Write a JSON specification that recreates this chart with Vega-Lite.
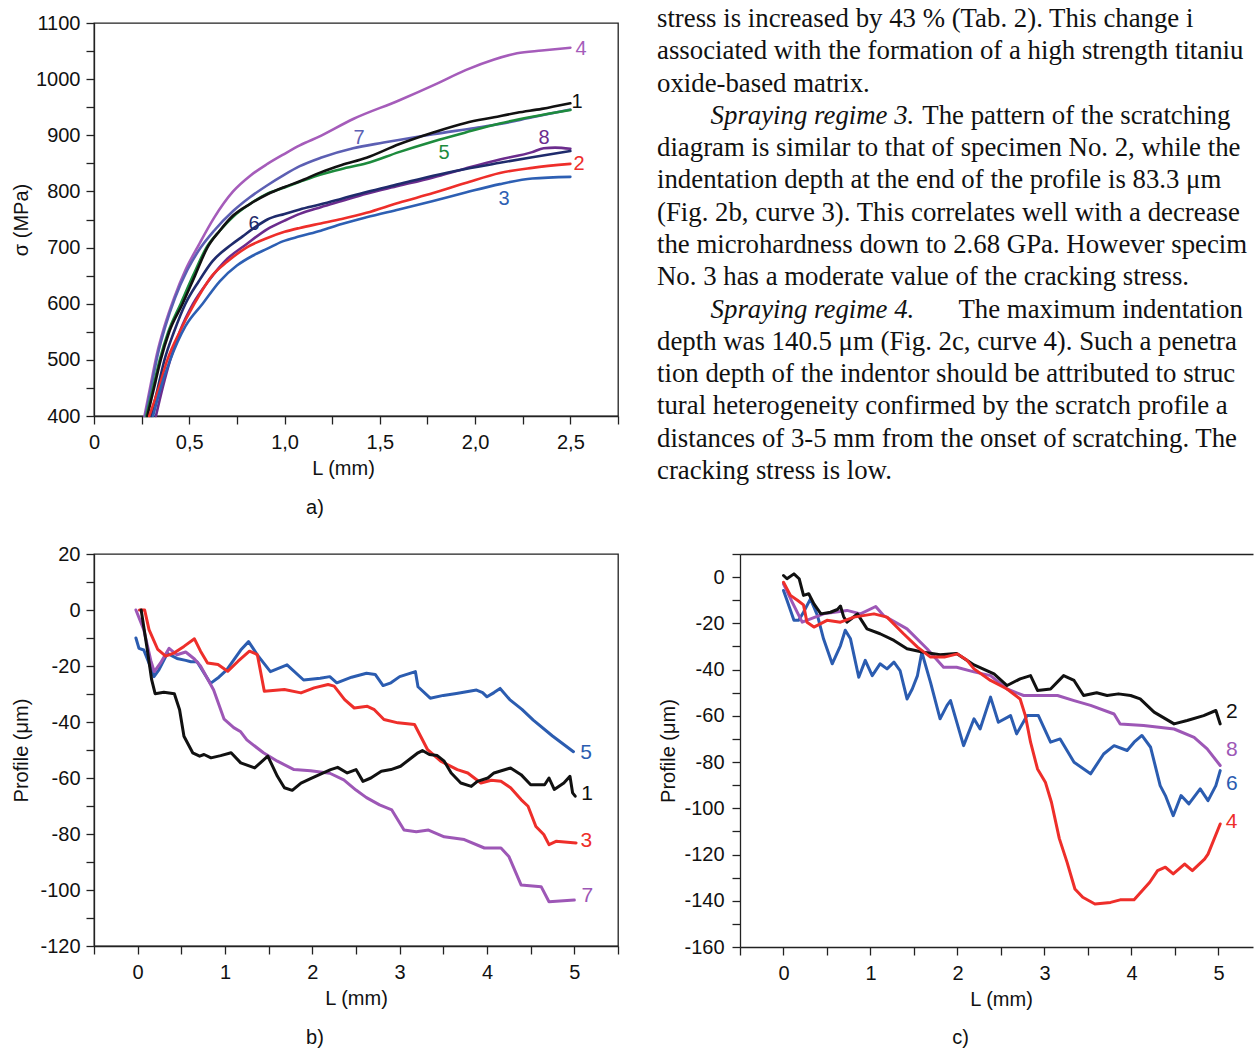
{
"$schema": "https://vega.github.io/schema/vega-lite/v6.json",
"background": "white",
"padding": {"left": 10, "top": 5, "right": 0, "bottom": 0},
"config": {
  "font": "Liberation Sans",
  "view": {"stroke": "#222222", "strokeWidth": 1.3},
  "axis": {"grid": false, "domainColor": "#222222", "domainWidth": 1.3, "tickColor": "#222222", "tickWidth": 1.3, "tickSize": 8, "labelFont": "Liberation Sans", "labelFontSize": 20, "labelColor": "#111111", "titleFont": "Liberation Sans", "titleFontSize": 20, "titleFontWeight": "normal", "titleColor": "#111111", "labelOverlap": false, "labelFlush": false, "labelBound": false},
  "axisX": {"labelPadding": 8.5, "titleY": 42.5, "titleBaseline": "top"},
  "axisY": {"labelPadding": 6, "titleX": -73, "titleBaseline": "middle"},
  "title": {"font": "Liberation Sans", "fontSize": 20, "fontWeight": "normal", "color": "#111111", "orient": "bottom", "anchor": "middle", "frame": "group", "baseline": "alphabetic", "offset": 19},
  "line": {"strokeCap": "round", "strokeJoin": "round"}
},
"datasets": {
  "a": [
    {"c":"a4","L":0.265,"s":400},{"c":"a4","L":0.30,"s":460},{"c":"a4","L":0.33,"s":510},{"c":"a4","L":0.37,"s":560},{"c":"a4","L":0.42,"s":610},{"c":"a4","L":0.48,"s":660},{"c":"a4","L":0.55,"s":705},{"c":"a4","L":0.63,"s":753},{"c":"a4","L":0.73,"s":800},{"c":"a4","L":0.82,"s":828},{"c":"a4","L":0.91,"s":849},{"c":"a4","L":1.0,"s":867},{"c":"a4","L":1.08,"s":882},{"c":"a4","L":1.19,"s":899},{"c":"a4","L":1.36,"s":929},{"c":"a4","L":1.6,"s":962},{"c":"a4","L":1.8,"s":992},{"c":"a4","L":1.95,"s":1016},{"c":"a4","L":2.1,"s":1035},{"c":"a4","L":2.22,"s":1046},{"c":"a4","L":2.35,"s":1051},{"c":"a4","L":2.5,"s":1056},
    {"c":"a7","L":0.27,"s":400},{"c":"a7","L":0.305,"s":460},{"c":"a7","L":0.335,"s":510},{"c":"a7","L":0.375,"s":560},{"c":"a7","L":0.425,"s":610},{"c":"a7","L":0.49,"s":660},{"c":"a7","L":0.56,"s":700},{"c":"a7","L":0.63,"s":730},{"c":"a7","L":0.73,"s":765},{"c":"a7","L":0.82,"s":790},{"c":"a7","L":0.91,"s":811},{"c":"a7","L":1.0,"s":830},{"c":"a7","L":1.08,"s":845},{"c":"a7","L":1.19,"s":860},{"c":"a7","L":1.36,"s":877},{"c":"a7","L":1.52,"s":887},{"c":"a7","L":1.78,"s":902},{"c":"a7","L":2.0,"s":913},{"c":"a7","L":2.13,"s":920},{"c":"a7","L":2.3,"s":932},{"c":"a7","L":2.5,"s":946},
    {"c":"a5","L":0.275,"s":400},{"c":"a5","L":0.31,"s":450},{"c":"a5","L":0.345,"s":500},{"c":"a5","L":0.39,"s":550},{"c":"a5","L":0.455,"s":600},{"c":"a5","L":0.52,"s":650},{"c":"a5","L":0.59,"s":700},{"c":"a5","L":0.66,"s":730},{"c":"a5","L":0.73,"s":755},{"c":"a5","L":0.82,"s":778},{"c":"a5","L":0.91,"s":796},{"c":"a5","L":1.0,"s":807},{"c":"a5","L":1.08,"s":817},{"c":"a5","L":1.19,"s":830},{"c":"a5","L":1.3,"s":840},{"c":"a5","L":1.43,"s":850},{"c":"a5","L":1.6,"s":870},{"c":"a5","L":1.78,"s":889},{"c":"a5","L":1.95,"s":905},{"c":"a5","L":2.13,"s":921},{"c":"a5","L":2.3,"s":933},{"c":"a5","L":2.5,"s":945},
    {"c":"a1","L":0.28,"s":400},{"c":"a1","L":0.315,"s":450},{"c":"a1","L":0.35,"s":500},{"c":"a1","L":0.395,"s":550},{"c":"a1","L":0.465,"s":600},{"c":"a1","L":0.53,"s":650},{"c":"a1","L":0.595,"s":700},{"c":"a1","L":0.66,"s":730},{"c":"a1","L":0.73,"s":757},{"c":"a1","L":0.82,"s":778},{"c":"a1","L":0.91,"s":795},{"c":"a1","L":1.0,"s":808},{"c":"a1","L":1.08,"s":818},{"c":"a1","L":1.19,"s":834},{"c":"a1","L":1.3,"s":847},{"c":"a1","L":1.43,"s":860},{"c":"a1","L":1.6,"s":884},{"c":"a1","L":1.78,"s":905},{"c":"a1","L":1.95,"s":922},{"c":"a1","L":2.1,"s":932},{"c":"a1","L":2.22,"s":940},{"c":"a1","L":2.35,"s":947},{"c":"a1","L":2.5,"s":957},
    {"c":"a8","L":0.325,"s":400},{"c":"a8","L":0.36,"s":450},{"c":"a8","L":0.40,"s":500},{"c":"a8","L":0.45,"s":550},{"c":"a8","L":0.52,"s":600},{"c":"a8","L":0.60,"s":640},{"c":"a8","L":0.70,"s":680},{"c":"a8","L":0.80,"s":706},{"c":"a8","L":0.91,"s":733},{"c":"a8","L":1.0,"s":748},{"c":"a8","L":1.08,"s":760},{"c":"a8","L":1.19,"s":772},{"c":"a8","L":1.3,"s":783},{"c":"a8","L":1.43,"s":796},{"c":"a8","L":1.6,"s":810},{"c":"a8","L":1.78,"s":825},{"c":"a8","L":1.95,"s":841},{"c":"a8","L":2.13,"s":857},{"c":"a8","L":2.3,"s":870},{"c":"a8","L":2.36,"s":877},{"c":"a8","L":2.42,"s":878},{"c":"a8","L":2.5,"s":876},
    {"c":"a6","L":0.30,"s":400},{"c":"a6","L":0.335,"s":450},{"c":"a6","L":0.37,"s":500},{"c":"a6","L":0.42,"s":550},{"c":"a6","L":0.48,"s":600},{"c":"a6","L":0.55,"s":640},{"c":"a6","L":0.62,"s":675},{"c":"a6","L":0.72,"s":705},{"c":"a6","L":0.78,"s":720},{"c":"a6","L":0.84,"s":735},{"c":"a6","L":0.91,"s":750},{"c":"a6","L":1.0,"s":760},{"c":"a6","L":1.08,"s":768},{"c":"a6","L":1.19,"s":777},{"c":"a6","L":1.3,"s":787},{"c":"a6","L":1.43,"s":799},{"c":"a6","L":1.6,"s":813},{"c":"a6","L":1.78,"s":828},{"c":"a6","L":1.95,"s":840},{"c":"a6","L":2.13,"s":851},{"c":"a6","L":2.3,"s":861},{"c":"a6","L":2.5,"s":872},
    {"c":"a2","L":0.29,"s":400},{"c":"a2","L":0.34,"s":450},{"c":"a2","L":0.385,"s":500},{"c":"a2","L":0.45,"s":550},{"c":"a2","L":0.527,"s":600},{"c":"a2","L":0.62,"s":650},{"c":"a2","L":0.70,"s":675},{"c":"a2","L":0.80,"s":700},{"c":"a2","L":0.91,"s":717},{"c":"a2","L":1.0,"s":728},{"c":"a2","L":1.08,"s":735},{"c":"a2","L":1.19,"s":743},{"c":"a2","L":1.3,"s":751},{"c":"a2","L":1.43,"s":762},{"c":"a2","L":1.6,"s":780},{"c":"a2","L":1.78,"s":797},{"c":"a2","L":1.95,"s":815},{"c":"a2","L":2.13,"s":833},{"c":"a2","L":2.3,"s":842},{"c":"a2","L":2.5,"s":849},
    {"c":"a3","L":0.31,"s":400},{"c":"a3","L":0.35,"s":450},{"c":"a3","L":0.40,"s":500},{"c":"a3","L":0.48,"s":560},{"c":"a3","L":0.57,"s":600},{"c":"a3","L":0.66,"s":640},{"c":"a3","L":0.75,"s":668},{"c":"a3","L":0.83,"s":685},{"c":"a3","L":0.91,"s":698},{"c":"a3","L":0.99,"s":711},{"c":"a3","L":1.08,"s":720},{"c":"a3","L":1.19,"s":730},{"c":"a3","L":1.3,"s":742},{"c":"a3","L":1.43,"s":754},{"c":"a3","L":1.6,"s":768},{"c":"a3","L":1.78,"s":783},{"c":"a3","L":1.95,"s":798},{"c":"a3","L":2.13,"s":813},{"c":"a3","L":2.3,"s":823},{"c":"a3","L":2.5,"s":826}
  ],
  "aLab": [
    {"c":"a4","n":"4","L":2.556,"s":1054},{"c":"a1","n":"1","L":2.535,"s":959},{"c":"a8","n":"8","L":2.362,"s":895},{"c":"a2","n":"2","L":2.545,"s":849},{"c":"a3","n":"3","L":2.152,"s":787},{"c":"a7","n":"7","L":1.391,"s":895},{"c":"a5","n":"5","L":1.837,"s":868},{"c":"a6","n":"6","L":0.84,"s":742}
  ],
  "b": [
    {"c":"b5","L":-0.02,"P":-10},{"c":"b5","L":0.015,"P":-13.7},{"c":"b5","L":0.07,"P":-14.3},{"c":"b5","L":0.13,"P":-19},{"c":"b5","L":0.187,"P":-23.8},{"c":"b5","L":0.243,"P":-21.4},{"c":"b5","L":0.34,"P":-15.5},{"c":"b5","L":0.45,"P":-17.3},{"c":"b5","L":0.55,"P":-18},{"c":"b5","L":0.61,"P":-18.5},{"c":"b5","L":0.68,"P":-18.5},{"c":"b5","L":0.834,"P":-26.2},{"c":"b5","L":0.93,"P":-24},{"c":"b5","L":1.02,"P":-21.4},{"c":"b5","L":1.18,"P":-14.3},{"c":"b5","L":1.27,"P":-11.3},{"c":"b5","L":1.37,"P":-16},{"c":"b5","L":1.52,"P":-22},{"c":"b5","L":1.71,"P":-19.6},{"c":"b5","L":1.9,"P":-25},{"c":"b5","L":2.09,"P":-24.4},{"c":"b5","L":2.2,"P":-23.8},{"c":"b5","L":2.28,"P":-26},{"c":"b5","L":2.45,"P":-24},{"c":"b5","L":2.62,"P":-22.6},{"c":"b5","L":2.72,"P":-23},{"c":"b5","L":2.81,"P":-27},{"c":"b5","L":2.9,"P":-26},{"c":"b5","L":3.0,"P":-23.8},{"c":"b5","L":3.18,"P":-22},{"c":"b5","L":3.21,"P":-27.4},{"c":"b5","L":3.35,"P":-31.5},{"c":"b5","L":3.5,"P":-30.5},{"c":"b5","L":3.65,"P":-29.8},{"c":"b5","L":3.88,"P":-28.6},{"c":"b5","L":3.95,"P":-29.5},{"c":"b5","L":4.0,"P":-31},{"c":"b5","L":4.08,"P":-29.5},{"c":"b5","L":4.15,"P":-28},{"c":"b5","L":4.26,"P":-32},{"c":"b5","L":4.4,"P":-35.5},{"c":"b5","L":4.53,"P":-39.3},{"c":"b5","L":4.75,"P":-45},{"c":"b5","L":4.99,"P":-50.6},
    {"c":"b7","L":-0.02,"P":0},{"c":"b7","L":0.07,"P":-7},{"c":"b7","L":0.15,"P":-18},{"c":"b7","L":0.19,"P":-22},{"c":"b7","L":0.26,"P":-19},{"c":"b7","L":0.36,"P":-13.7},{"c":"b7","L":0.45,"P":-16},{"c":"b7","L":0.55,"P":-15},{"c":"b7","L":0.65,"P":-17.5},{"c":"b7","L":0.72,"P":-20},{"c":"b7","L":0.87,"P":-28.6},{"c":"b7","L":0.99,"P":-39},{"c":"b7","L":1.1,"P":-42},{"c":"b7","L":1.18,"P":-43.5},{"c":"b7","L":1.25,"P":-46.4},{"c":"b7","L":1.44,"P":-51},{"c":"b7","L":1.6,"P":-54},{"c":"b7","L":1.79,"P":-57},{"c":"b7","L":1.98,"P":-57.4},{"c":"b7","L":2.2,"P":-58.3},{"c":"b7","L":2.36,"P":-60.7},{"c":"b7","L":2.5,"P":-64.3},{"c":"b7","L":2.62,"P":-67},{"c":"b7","L":2.77,"P":-69.6},{"c":"b7","L":2.91,"P":-71.4},{"c":"b7","L":3.05,"P":-78.6},{"c":"b7","L":3.19,"P":-79.2},{"c":"b7","L":3.33,"P":-78.6},{"c":"b7","L":3.51,"P":-81},{"c":"b7","L":3.74,"P":-82},{"c":"b7","L":3.97,"P":-85},{"c":"b7","L":4.16,"P":-85},{"c":"b7","L":4.25,"P":-88},{"c":"b7","L":4.39,"P":-98.2},{"c":"b7","L":4.62,"P":-98.8},{"c":"b7","L":4.71,"P":-104.2},{"c":"b7","L":5.0,"P":-103.6},
    {"c":"b3","L":0.02,"P":0},{"c":"b3","L":0.08,"P":0},{"c":"b3","L":0.13,"P":-7},{"c":"b3","L":0.23,"P":-14.1},{"c":"b3","L":0.32,"P":-16.5},{"c":"b3","L":0.42,"P":-15.3},{"c":"b3","L":0.53,"P":-13},{"c":"b3","L":0.65,"P":-10.3},{"c":"b3","L":0.72,"P":-14.7},{"c":"b3","L":0.8,"P":-18.9},{"c":"b3","L":0.92,"P":-19.5},{"c":"b3","L":1.03,"P":-21.9},{"c":"b3","L":1.15,"P":-18.3},{"c":"b3","L":1.28,"P":-14.7},{"c":"b3","L":1.37,"P":-15.9},{"c":"b3","L":1.45,"P":-29},{"c":"b3","L":1.68,"P":-28.4},{"c":"b3","L":1.87,"P":-29.6},{"c":"b3","L":2.02,"P":-27.8},{"c":"b3","L":2.18,"P":-26.6},{"c":"b3","L":2.25,"P":-27.2},{"c":"b3","L":2.37,"P":-32},{"c":"b3","L":2.48,"P":-35},{"c":"b3","L":2.63,"P":-34.4},{"c":"b3","L":2.71,"P":-35.6},{"c":"b3","L":2.82,"P":-39.1},{"c":"b3","L":2.98,"P":-40.3},{"c":"b3","L":3.17,"P":-40.9},{"c":"b3","L":3.24,"P":-45.1},{"c":"b3","L":3.32,"P":-49.9},{"c":"b3","L":3.47,"P":-54},{"c":"b3","L":3.66,"P":-57},{"c":"b3","L":3.78,"P":-58.2},{"c":"b3","L":3.93,"P":-61.8},{"c":"b3","L":4.05,"P":-60.8},{"c":"b3","L":4.16,"P":-61.2},{"c":"b3","L":4.27,"P":-63.5},{"c":"b3","L":4.39,"P":-67.7},{"c":"b3","L":4.47,"P":-70.1},{"c":"b3","L":4.56,"P":-77.3},{"c":"b3","L":4.65,"P":-80.2},{"c":"b3","L":4.71,"P":-83.8},{"c":"b3","L":4.79,"P":-82.6},{"c":"b3","L":5.02,"P":-83.2},
    {"c":"b1","L":0.04,"P":0},{"c":"b1","L":0.11,"P":-14.1},{"c":"b1","L":0.16,"P":-24.9},{"c":"b1","L":0.2,"P":-29.9},{"c":"b1","L":0.3,"P":-29.4},{"c":"b1","L":0.42,"P":-29.9},{"c":"b1","L":0.48,"P":-35.6},{"c":"b1","L":0.53,"P":-45.1},{"c":"b1","L":0.63,"P":-51},{"c":"b1","L":0.71,"P":-52.2},{"c":"b1","L":0.76,"P":-51.6},{"c":"b1","L":0.84,"P":-52.8},{"c":"b1","L":0.95,"P":-52},{"c":"b1","L":1.07,"P":-51},{"c":"b1","L":1.18,"P":-54.6},{"c":"b1","L":1.34,"P":-56.4},{"c":"b1","L":1.49,"P":-52.2},{"c":"b1","L":1.6,"P":-59.4},{"c":"b1","L":1.68,"P":-63.5},{"c":"b1","L":1.77,"P":-64.4},{"c":"b1","L":1.87,"P":-61.8},{"c":"b1","L":1.98,"P":-60.2},{"c":"b1","L":2.1,"P":-58.5},{"c":"b1","L":2.21,"P":-57},{"c":"b1","L":2.29,"P":-56.2},{"c":"b1","L":2.4,"P":-58.2},{"c":"b1","L":2.5,"P":-57},{"c":"b1","L":2.58,"P":-61.2},{"c":"b1","L":2.67,"P":-60},{"c":"b1","L":2.79,"P":-57.6},{"c":"b1","L":2.9,"P":-57},{"c":"b1","L":3.01,"P":-55.8},{"c":"b1","L":3.11,"P":-53.4},{"c":"b1","L":3.21,"P":-51},{"c":"b1","L":3.26,"P":-50.2},{"c":"b1","L":3.34,"P":-51.6},{"c":"b1","L":3.43,"P":-52},{"c":"b1","L":3.51,"P":-54},{"c":"b1","L":3.59,"P":-58.2},{"c":"b1","L":3.7,"P":-61.8},{"c":"b1","L":3.82,"P":-63},{"c":"b1","L":3.89,"P":-61.2},{"c":"b1","L":4.01,"P":-60},{"c":"b1","L":4.08,"P":-58.2},{"c":"b1","L":4.27,"P":-56.4},{"c":"b1","L":4.39,"P":-58.8},{"c":"b1","L":4.5,"P":-62.4},{"c":"b1","L":4.66,"P":-62.4},{"c":"b1","L":4.71,"P":-60},{"c":"b1","L":4.77,"P":-64.1},{"c":"b1","L":4.88,"P":-61.8},{"c":"b1","L":4.95,"P":-59.4},{"c":"b1","L":4.98,"P":-65.3},{"c":"b1","L":5.01,"P":-66.5}
  ],
  "bLab": [
    {"c":"b5","n":"5","L":5.134,"P":-51.1},{"c":"b1","n":"1","L":5.145,"P":-65.7},{"c":"b3","n":"3","L":5.137,"P":-82.4},{"c":"b7","n":"7","L":5.15,"P":-102}
  ],
  "c": [
    {"c":"c6","L":0,"P":-5.8},{"c":"c6","L":0.04,"P":-10},{"c":"c6","L":0.12,"P":-18.7},{"c":"c6","L":0.175,"P":-18.7},{"c":"c6","L":0.23,"P":-15.2},{"c":"c6","L":0.31,"P":-9.4},{"c":"c6","L":0.39,"P":-16.6},{"c":"c6","L":0.46,"P":-26.7},{"c":"c6","L":0.56,"P":-37.5},{"c":"c6","L":0.655,"P":-29.6},{"c":"c6","L":0.71,"P":-23},{"c":"c6","L":0.77,"P":-26.7},{"c":"c6","L":0.865,"P":-43.3},{"c":"c6","L":0.94,"P":-36},{"c":"c6","L":1.02,"P":-42.6},{"c":"c6","L":1.11,"P":-37.5},{"c":"c6","L":1.19,"P":-39.7},{"c":"c6","L":1.27,"P":-36.8},{"c":"c6","L":1.34,"P":-40.4},{"c":"c6","L":1.42,"P":-52.7},{"c":"c6","L":1.48,"P":-48.4},{"c":"c6","L":1.54,"P":-42.6},{"c":"c6","L":1.59,"P":-32.5},{"c":"c6","L":1.69,"P":-45.5},{"c":"c6","L":1.8,"P":-61.3},{"c":"c6","L":1.88,"P":-55.5},{"c":"c6","L":1.92,"P":-53.4},{"c":"c6","L":2.07,"P":-72.9},{"c":"c6","L":2.19,"P":-61.3},{"c":"c6","L":2.26,"P":-65.7},{"c":"c6","L":2.38,"P":-51.9},{"c":"c6","L":2.47,"P":-62.8},{"c":"c6","L":2.61,"P":-59.9},{"c":"c6","L":2.68,"P":-67.8},{"c":"c6","L":2.8,"P":-59.9},{"c":"c6","L":2.93,"P":-59.9},{"c":"c6","L":3.07,"P":-71.4},{"c":"c6","L":3.18,"P":-70},{"c":"c6","L":3.34,"P":-80.1},{"c":"c6","L":3.53,"P":-85.1},{"c":"c6","L":3.68,"P":-76.5},{"c":"c6","L":3.8,"P":-72.9},{"c":"c6","L":3.95,"P":-75},{"c":"c6","L":4.03,"P":-71.4},{"c":"c6","L":4.12,"P":-68.5},{"c":"c6","L":4.22,"P":-73.6},{"c":"c6","L":4.33,"P":-90.2},{"c":"c6","L":4.39,"P":-94.5},{"c":"c6","L":4.48,"P":-103.2},{"c":"c6","L":4.57,"P":-94.5},{"c":"c6","L":4.66,"P":-98.1},{"c":"c6","L":4.79,"P":-91.6},{"c":"c6","L":4.88,"P":-96.7},{"c":"c6","L":4.97,"P":-90.2},{"c":"c6","L":5.02,"P":-83.7},
    {"c":"c8","L":0,"P":-2.9},{"c":"c8","L":0.1,"P":-10.8},{"c":"c8","L":0.215,"P":-19.5},{"c":"c8","L":0.46,"P":-15.9},{"c":"c8","L":0.73,"P":-14.4},{"c":"c8","L":0.885,"P":-15.9},{"c":"c8","L":1.06,"P":-12.7},{"c":"c8","L":1.15,"P":-16.6},{"c":"c8","L":1.42,"P":-22.4},{"c":"c8","L":1.65,"P":-31},{"c":"c8","L":1.84,"P":-39},{"c":"c8","L":1.99,"P":-39},{"c":"c8","L":2.19,"P":-41},{"c":"c8","L":2.38,"P":-42.6},{"c":"c8","L":2.57,"P":-48.4},{"c":"c8","L":2.76,"P":-51.2},{"c":"c8","L":3.15,"P":-51.2},{"c":"c8","L":3.34,"P":-53.4},{"c":"c8","L":3.53,"P":-55.5},{"c":"c8","L":3.8,"P":-59.2},{"c":"c8","L":3.87,"P":-63.5},{"c":"c8","L":4.14,"P":-64.2},{"c":"c8","L":4.49,"P":-65.7},{"c":"c8","L":4.72,"P":-69.3},{"c":"c8","L":4.87,"P":-74.3},{"c":"c8","L":5.02,"P":-81.5},
    {"c":"c2","L":0,"P":0.7},{"c":"c2","L":0.04,"P":-0.7},{"c":"c2","L":0.12,"P":1.4},{"c":"c2","L":0.18,"P":-0.7},{"c":"c2","L":0.23,"P":-7.9},{"c":"c2","L":0.29,"P":-7.2},{"c":"c2","L":0.35,"P":-11.6},{"c":"c2","L":0.43,"P":-15.9},{"c":"c2","L":0.54,"P":-15.2},{"c":"c2","L":0.62,"P":-14},{"c":"c2","L":0.655,"P":-12.5},{"c":"c2","L":0.69,"P":-17},{"c":"c2","L":0.73,"P":-19.5},{"c":"c2","L":0.78,"P":-18},{"c":"c2","L":0.85,"P":-15.9},{"c":"c2","L":0.96,"P":-22.4},{"c":"c2","L":1.11,"P":-24.5},{"c":"c2","L":1.27,"P":-27.4},{"c":"c2","L":1.42,"P":-31},{"c":"c2","L":1.61,"P":-32.5},{"c":"c2","L":1.8,"P":-33.6},{"c":"c2","L":1.99,"P":-33},{"c":"c2","L":2.19,"P":-38},{"c":"c2","L":2.42,"P":-41.9},{"c":"c2","L":2.57,"P":-46.9},{"c":"c2","L":2.72,"P":-44},{"c":"c2","L":2.84,"P":-42.6},{"c":"c2","L":2.92,"P":-49},{"c":"c2","L":3.07,"P":-48.4},{"c":"c2","L":3.22,"P":-42.6},{"c":"c2","L":3.34,"P":-44.7},{"c":"c2","L":3.45,"P":-51.2},{"c":"c2","L":3.6,"P":-50},{"c":"c2","L":3.72,"P":-51.2},{"c":"c2","L":3.85,"P":-50.5},{"c":"c2","L":3.99,"P":-51.2},{"c":"c2","L":4.1,"P":-52.7},{"c":"c2","L":4.26,"P":-58.4},{"c":"c2","L":4.49,"P":-63.5},{"c":"c2","L":4.64,"P":-62},{"c":"c2","L":4.83,"P":-59.9},{"c":"c2","L":4.97,"P":-57.7},{"c":"c2","L":5.02,"P":-63.5},
    {"c":"c4","L":0,"P":-2.2},{"c":"c4","L":0.08,"P":-7.9},{"c":"c4","L":0.16,"P":-10},{"c":"c4","L":0.23,"P":-12},{"c":"c4","L":0.27,"P":-19.5},{"c":"c4","L":0.35,"P":-21.6},{"c":"c4","L":0.5,"P":-18.7},{"c":"c4","L":0.655,"P":-19.5},{"c":"c4","L":0.81,"P":-17.3},{"c":"c4","L":1.04,"P":-15.9},{"c":"c4","L":1.19,"P":-17.3},{"c":"c4","L":1.38,"P":-24.5},{"c":"c4","L":1.54,"P":-30.3},{"c":"c4","L":1.69,"P":-34.6},{"c":"c4","L":1.85,"P":-34.6},{"c":"c4","L":2.0,"P":-33.2},{"c":"c4","L":2.11,"P":-36},{"c":"c4","L":2.19,"P":-39.7},{"c":"c4","L":2.38,"P":-44.7},{"c":"c4","L":2.57,"P":-48.4},{"c":"c4","L":2.72,"P":-52.7},{"c":"c4","L":2.78,"P":-59.9},{"c":"c4","L":2.84,"P":-71.4},{"c":"c4","L":2.92,"P":-83},{"c":"c4","L":3.01,"P":-88.7},{"c":"c4","L":3.08,"P":-97.4},{"c":"c4","L":3.17,"P":-113},{"c":"c4","L":3.26,"P":-123.4},{"c":"c4","L":3.35,"P":-134.9},{"c":"c4","L":3.44,"P":-138.5},{"c":"c4","L":3.58,"P":-141.4},{"c":"c4","L":3.76,"P":-140.7},{"c":"c4","L":3.87,"P":-139.6},{"c":"c4","L":4.03,"P":-139.6},{"c":"c4","L":4.21,"P":-132},{"c":"c4","L":4.3,"P":-127},{"c":"c4","L":4.39,"P":-125.5},{"c":"c4","L":4.48,"P":-128.4},{"c":"c4","L":4.61,"P":-124.1},{"c":"c4","L":4.7,"P":-127},{"c":"c4","L":4.84,"P":-122},{"c":"c4","L":4.88,"P":-119.8},{"c":"c4","L":5.02,"P":-106.8}
  ],
  "cLab": [
    {"c":"c2","n":"2","L":5.155,"P":-58.3},{"c":"c8","n":"8","L":5.155,"P":-74.9},{"c":"c6","n":"6","L":5.155,"P":-89.4},{"c":"c4","n":"4","L":5.15,"P":-105.9}
  ],
  "lines": [
    {"line":1,"t":"stress is increased by 43 % (Tab. 2). This change i"},
    {"line":2,"t":"associated with the formation of a high strength titanium"},
    {"line":3,"t":"oxide-based matrix."},
    {"line":5,"t":"diagram is similar to that of specimen No. 2, while the"},
    {"line":6,"t":"indentation depth at the end of the profile is 83.3 μm"},
    {"line":7,"t":"(Fig. 2b, curve 3). This correlates well with a decrease in"},
    {"line":8,"t":"the microhardness down to 2.68 GPa. However specimen"},
    {"line":9,"t":"No. 3 has a moderate value of the cracking stress."},
    {"line":11,"t":"depth was 140.5 μm (Fig. 2c, curve 4). Such a penetra"},
    {"line":12,"t":"tion depth of the indentor should be attributed to struc"},
    {"line":13,"t":"tural heterogeneity confirmed by the scratch profile a"},
    {"line":14,"t":"distances of 3-5 mm from the onset of scratching. The"},
    {"line":15,"t":"cracking stress is low."}
  ],
  "heads": [
    {"line":4,"t":"Spraying regime 3."},
    {"line":10,"t":"Spraying regime 4."}
  ],
  "rest": [
    {"line":4,"t":"The pattern of the scratching"},
    {"line":10,"t":"The maximum indentation"}
  ]
},
"vconcat": [
  {
    "hconcat": [
      {
        "width": 524, "height": 393,
        "title": {"text": "a)", "dx": -41, "offset": 19.3},
        "encoding": {
          "x": {"field": "L", "type": "quantitative", "title": "L (mm)", "scale": {"domain": [0, 2.75], "nice": false, "zero": false},
                "axis": {"values": [0,0.25,0.5,0.75,1,1.25,1.5,1.75,2,2.25,2.5,2.75], "labelExpr": "datum.value == 0 ? '0' : (round(datum.value * 100) % 50 == 0 ? replace(format(datum.value, '.1f'), '.', ',') : '')", "titleX": 249}},
          "y": {"field": "s", "type": "quantitative", "title": "σ (MPa)", "scale": {"domain": [400, 1100], "nice": false, "zero": false},
                "axis": {"values": [400,450,500,550,600,650,700,750,800,850,900,950,1000,1050,1100], "labelExpr": "datum.value % 100 == 0 ? '' + datum.value : ''"}},
          "color": {"field": "c", "type": "nominal", "legend": null,
                    "scale": {"domain": ["a1","a2","a3","a4","a5","a6","a7","a8","b1","b3","b5","b7","c2","c4","c6","c8"],
                              "range": ["#111111","#ee2e2a","#2d5fb3","#a55cba","#1d8b3d","#1f2b6c","#5c5fb3","#6b2c8d","#111111","#ee2e2a","#2b5cb0","#9d57b6","#111111","#ee2e2a","#2b5cb0","#9d57b6"]}}
        },
        "layer": [
          {"data": {"name": "a"}, "mark": {"type": "line", "interpolate": "monotone", "strokeWidth": 2.6}},
          {"data": {"name": "aLab"}, "mark": {"type": "text", "fontSize": 20, "align": "center", "baseline": "middle", "font": "Liberation Sans"}, "encoding": {"text": {"field": "n"}}}
        ]
      },
      {
        "width": 597, "height": 393,
        "view": {"stroke": null},
        "encoding": {
          "y": {"field": "line", "type": "quantitative", "scale": {"domain": [1.1239, 13.2948], "reverse": true, "nice": false, "zero": false}, "axis": null},
          "text": {"field": "t", "type": "nominal"}
        },
        "layer": [
          {"data": {"name": "lines"},
           "mark": {"type": "text", "align": "left", "baseline": "middle", "font": "Liberation Serif", "fontSize": 26.8, "color": "#111111", "limit": 597, "ellipsis": " "},
           "encoding": {"x": {"datum": 0, "type": "quantitative", "scale": {"domain": [0, 22.276], "nice": false, "zero": false}, "axis": null}}},
          {"data": {"name": "heads"},
           "mark": {"type": "text", "align": "left", "baseline": "middle", "font": "Liberation Serif", "fontSize": 26.8, "fontStyle": "italic", "color": "#111111"},
           "encoding": {"x": {"datum": 2, "type": "quantitative", "scale": {"domain": [0, 22.276], "nice": false, "zero": false}, "axis": null}}},
          {"data": {"name": "rest"}, "transform": [{"filter": "datum.line == 4"}],
           "mark": {"type": "text", "align": "left", "baseline": "middle", "font": "Liberation Serif", "fontSize": 26.8, "color": "#111111", "limit": 332, "ellipsis": " "},
           "encoding": {"x": {"datum": 9.9, "type": "quantitative", "scale": {"domain": [0, 22.276], "nice": false, "zero": false}, "axis": null}}},
          {"data": {"name": "rest"}, "transform": [{"filter": "datum.line == 10"}],
           "mark": {"type": "text", "align": "left", "baseline": "middle", "font": "Liberation Serif", "fontSize": 26.8, "color": "#111111", "limit": 295, "ellipsis": " "},
           "encoding": {"x": {"datum": 11.25, "type": "quantitative", "scale": {"domain": [0, 22.276], "nice": false, "zero": false}, "axis": null}}}
        ]
      }
    ],
    "bounds": "flush",
    "spacing": 39
  },
  {
    "hconcat": [
      {
        "width": 524, "height": 392,
        "title": {"text": "b)", "dx": -41, "offset": 19.5},
        "encoding": {
          "x": {"field": "L", "type": "quantitative", "title": "L (mm)", "scale": {"domain": [-0.5, 5.5], "nice": false, "zero": false},
                "axis": {"values": [-0.5,0,0.5,1,1.5,2,2.5,3,3.5,4,4.5,5,5.5], "labelExpr": "datum.value % 1 == 0 ? '' + datum.value : ''"}},
          "y": {"field": "P", "type": "quantitative", "title": "Profile (μm)", "scale": {"domain": [-120, 20], "nice": false, "zero": false},
                "axis": {"values": [-120,-110,-100,-90,-80,-70,-60,-50,-40,-30,-20,-10,0,10,20], "labelExpr": "datum.value % 20 == 0 ? '' + datum.value : ''"}},
          "color": {"field": "c", "type": "nominal", "legend": null,
                    "scale": {"domain": ["a1","a2","a3","a4","a5","a6","a7","a8","b1","b3","b5","b7","c2","c4","c6","c8"],
                              "range": ["#111111","#ee2e2a","#2d5fb3","#a55cba","#1d8b3d","#1f2b6c","#5c5fb3","#6b2c8d","#111111","#ee2e2a","#2b5cb0","#9d57b6","#111111","#ee2e2a","#2b5cb0","#9d57b6"]}}
        },
        "layer": [
          {"data": {"name": "b"}, "mark": {"type": "line", "strokeWidth": 3}},
          {"data": {"name": "bLab"}, "mark": {"type": "text", "fontSize": 21, "align": "center", "baseline": "middle", "font": "Liberation Sans"}, "encoding": {"text": {"field": "n"}}}
        ]
      },
      {
        "width": 513, "height": 393,
        "view": {"stroke": null},
        "title": {"text": "c)", "dx": -36, "offset": 18.5},
        "encoding": {
          "y": {"field": "P", "type": "quantitative", "title": "Profile (μm)", "scale": {"domain": [-160, 10], "nice": false, "zero": false},
                "axis": {"values": [-160,-150,-140,-130,-120,-110,-100,-90,-80,-70,-60,-50,-40,-30,-20,-10,0,10], "labelExpr": "datum.value % 20 == 0 ? '' + datum.value : ''", "labelPadding": 8, "titleX": -72}},
          "color": {"field": "c", "type": "nominal", "legend": null,
                    "scale": {"domain": ["a1","a2","a3","a4","a5","a6","a7","a8","b1","b3","b5","b7","c2","c4","c6","c8"],
                              "range": ["#111111","#ee2e2a","#2d5fb3","#a55cba","#1d8b3d","#1f2b6c","#5c5fb3","#6b2c8d","#111111","#ee2e2a","#2b5cb0","#9d57b6","#111111","#ee2e2a","#2b5cb0","#9d57b6"]}}
        },
        "layer": [
          {"data": {"name": "c"}, "mark": {"type": "line", "strokeWidth": 3},
           "encoding": {"x": {"field": "L", "type": "quantitative", "title": "L (mm)", "scale": {"domain": [-0.5, 5.397], "nice": false, "zero": false},
                              "axis": {"orient": "bottom", "values": [-0.5,0,0.5,1,1.5,2,2.5,3,3.5,4,4.5,5], "labelExpr": "datum.value % 1 == 0 ? '' + datum.value : ''", "titleX": 261}}}},
          {"data": {"name": "cLab"}, "mark": {"type": "text", "fontSize": 21, "align": "center", "baseline": "middle", "font": "Liberation Sans"},
           "encoding": {"text": {"field": "n"},
                        "x": {"field": "L", "type": "quantitative", "title": null, "scale": {"domain": [-0.5, 5.397], "nice": false, "zero": false},
                              "axis": {"orient": "top", "ticks": false, "labels": false, "title": null, "domain": true}}}}
        ],
        "resolve": {"axis": {"x": "independent"}}
      }
    ],
    "bounds": "flush",
    "spacing": 122
  }
],
"spacing": 24,
"bounds": "full"
}
